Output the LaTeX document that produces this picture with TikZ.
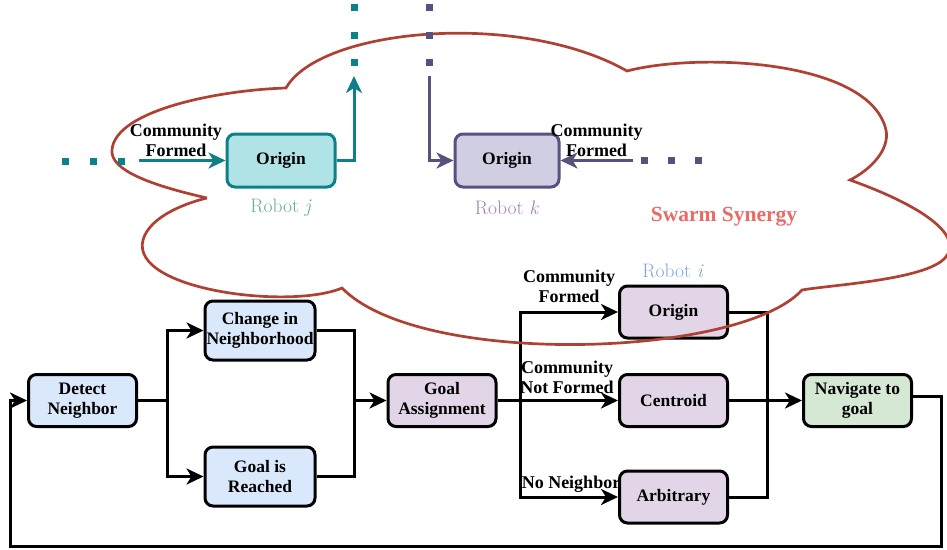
\documentclass[tikz,border=0pt]{standalone}
\usepackage{fontspec}
\newfontfamily\tms{Liberation Serif}
\usetikzlibrary{arrows.meta}
\definecolor{bfill}{HTML}{DAE8FC}
\definecolor{pfill}{HTML}{E1D5E7}
\definecolor{gfill}{HTML}{D5E8D4}
\definecolor{tfill}{HTML}{B0E3E6}
\definecolor{tline}{HTML}{0E8088}
\definecolor{kfill}{HTML}{D0CEE2}
\definecolor{kline}{HTML}{56517E}
\definecolor{cloudc}{HTML}{AE4132}
\definecolor{labi}{HTML}{7EA6E0}
\definecolor{labj}{HTML}{67AB9F}
\definecolor{labk}{HTML}{A680B8}
\definecolor{swarm}{HTML}{EA6B66}
\tikzset{
  boxst/.style={draw, line width=3pt, rounded corners=8pt, minimum width=108pt,
    minimum height=52pt, inner sep=0pt, align=center,
    font=\tms\bfseries\fontsize{17.5}{20}\selectfont},
  wire/.style={line width=3pt, line join=miter},
  conn/.style={wire, -{Stealth[length=17pt,width=16pt,inset=5pt]}},
  lbl/.style={align=center, inner sep=0pt, font=\tms\bfseries\fontsize{18}{20}\selectfont},
  roblbl/.style={inner sep=0pt, font=\fontsize{19.5}{22}\selectfont},
  cloudst/.style={draw=cloudc, line width=2.7pt, line join=miter},
  dotst/.style={minimum size=7pt, inner sep=0pt, draw=none}
}
\begin{document}
\begin{tikzpicture}[x=1pt,y=-1pt]
\useasboundingbox (0,0) rectangle (947,549);
% bottom flow
\node[boxst, fill=bfill] (det) at (82.5,400.5) {Detect\\Neighbor};
\node[boxst, fill=bfill, minimum width=110pt, minimum height=59pt] (chg) at (260,330.5) {Change in\\Neighborhood};
\node[boxst, fill=bfill, minimum width=110pt, minimum height=59pt] (rch) at (260,476.5) {Goal is\\Reached};
\node[boxst, fill=pfill] (ga) at (442,400.5) {Goal\\Assignment};
\node[boxst, fill=pfill] (ori) at (673.5,312) {Origin};
\node[boxst, fill=pfill] (cen) at (673.5,400.5) {Centroid};
\node[boxst, fill=pfill] (arb) at (673.5,497) {Arbitrary};
\node[boxst, fill=gfill] (nav) at (857.5,400.5) {Navigate to\\goal};
\node[roblbl, text=labi] (robi) at (673,271) {Robot \textit{i}};

\coordinate (s1) at (167,400.5);
\coordinate (m1) at (354,400.5);
\coordinate (s2) at (520,400.5);
\coordinate (m2) at (767,400.5);
\coordinate (l1) at (941,396);
\coordinate (l2) at (941,546);
\coordinate (l3) at (10,546);
\coordinate (l4) at (10,400.5);

\draw[wire] (det.east) -- (s1);
\draw[conn] (s1) |- (chg.west);
\draw[conn] (s1) |- (rch.west);
\draw[wire] (chg.east) -| (m1);
\draw[wire] (rch.east) -| (m1);
\draw[conn] (m1) -- (ga.west);
\draw[wire] (ga.east) -- (s2);
\draw[conn] (s2) |- (ori.west);
\draw[conn] (s2) -- (cen.west);
\draw[conn] (s2) |- (arb.west);
\draw[wire] (ori.east) -| (m2);
\draw[wire] (arb.east) -| (m2);
\draw[conn] (cen.east) -- (nav.west);
\draw[conn] (nav.east |- l1) -- (l1) -- (l2) -- (l3) -- (l4) -- (det.west);

\node[lbl] (lcf) at (569,286) {Community\\Formed};
\node[lbl] (lcnf) at (567,377) {Community\\Not Formed};
\node[lbl] (lnn) at (571,484) {No Neighbor};

% cloud
\draw[cloudst] (207,198) .. controls (150,185) and (110,170) .. (112,150)
  .. controls (115,110) and (220,90) .. (286,88)
  .. controls (320,28) and (520,10) .. (627,71)
  .. controls (700,52) and (870,60) .. (886,130)
  .. controls (890,150) and (870,170) .. (850,180)
  .. controls (920,205) and (965,235) .. (945,258)
  .. controls (925,280) and (830,285) .. (802,290)
  .. controls (740,358) and (420,368) .. (342,288)
  .. controls (290,310) and (130,290) .. (143,240)
  .. controls (150,215) and (190,202) .. (207,198);
\node[inner sep=0pt, text=swarm, font=\tms\bfseries\fontsize{21.5}{24}\selectfont] (sw) at (724,217) {Swarm Synergy};

% top: robot j
\node[boxst, fill=tfill, draw=tline, minimum height=53pt] (oj) at (281,160.5) {Origin};
\node[roblbl, text=labj] (robj) at (281,208) {Robot \textit{j}};
\coordinate (tj1) at (139,160.5);
\coordinate (tj2) at (354,76);
\draw[conn, draw=tline] (tj1) -- (oj.west);
\draw[conn, draw=tline] (oj.east) -| (tj2);
\node[lbl] (ljcf) at (176,140) {Community\\Formed};
\foreach \n/\x/\y in {a/65/161, b/93/161, c/121/161, d/354/7, e/354/35, f/354/62}
  \node[dotst, fill=tline] (tdot\n) at (\x,\y) {};

% top: robot k
\node[boxst, fill=kfill, draw=kline, minimum width=104pt, minimum height=53pt] (ok) at (507,160.5) {Origin};
\node[roblbl, text=labk] (robk) at (507,208) {Robot \textit{k}};
\coordinate (pk1) at (429,76);
\coordinate (pk2) at (633,160.5);
\draw[conn, draw=kline] (pk1) |- (ok.west);
\draw[conn, draw=kline] (pk2) -- (ok.east);
\node[lbl] (lkcf) at (596.5,140) {Community\\Formed};
\foreach \n/\x/\y in {a/644/160, b/671/160, c/698/160, d/429/7, e/429/35, f/429/62}
  \node[dotst, fill=kline] (kdot\n) at (\x,\y) {};
\end{tikzpicture}
\end{document}
